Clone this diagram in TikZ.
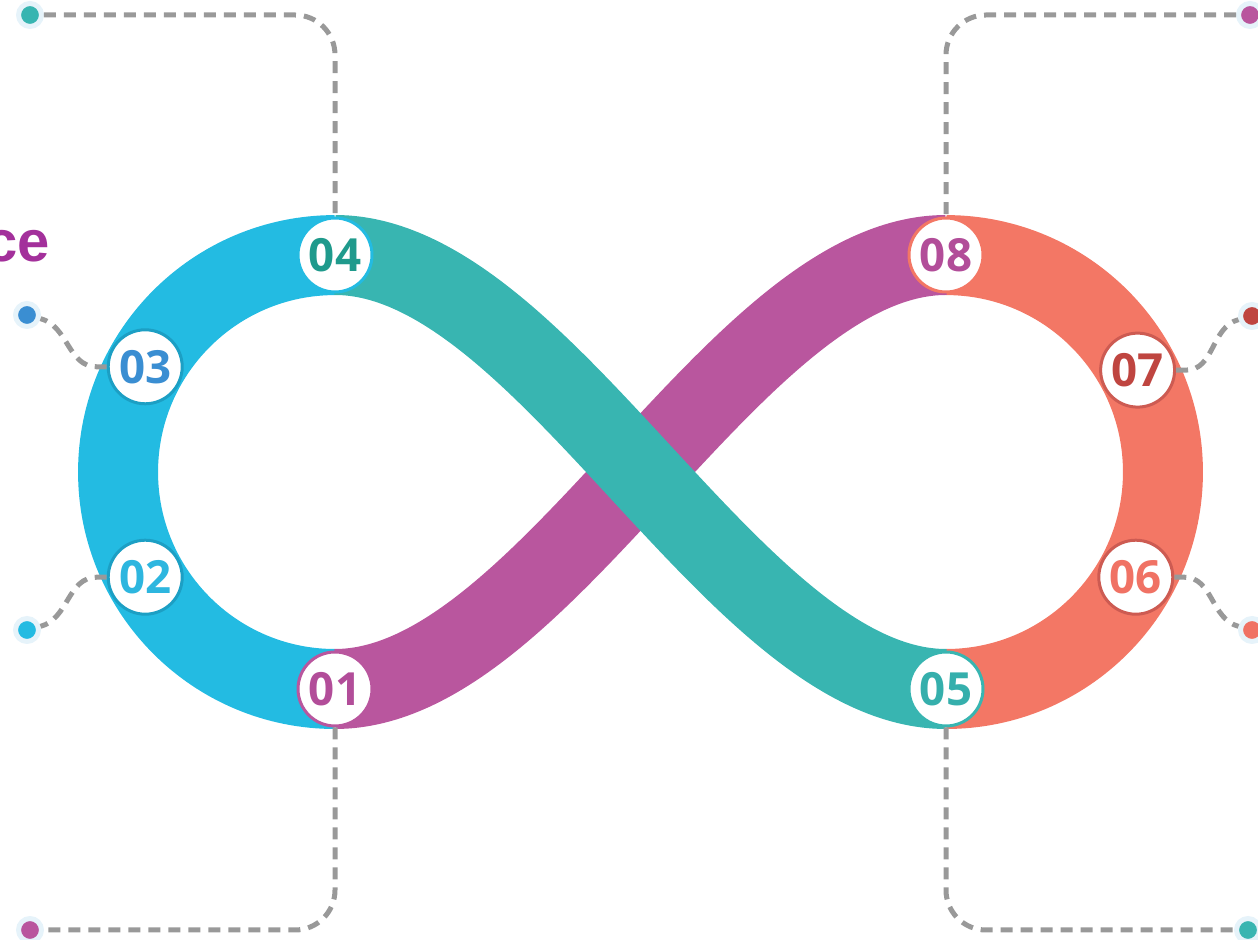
\documentclass[tikz,border=0pt]{standalone}
\usepackage{fontspec}
\setmainfont{Open Sans}
\newfontfamily\titlefont{Liberation Sans}
\usepackage{xcolor}
\usepackage{tikz}
\usetikzlibrary{calc}

\definecolor{cyanband}{HTML}{23BBE2}
\definecolor{tealband}{HTML}{38B5B1}
\definecolor{magband}{HTML}{B9569E}
\definecolor{coralband}{HTML}{F37765}
\definecolor{linkgray}{HTML}{999999}
\definecolor{halo}{HTML}{E6F3FA}
\definecolor{titlemag}{HTML}{A3309B}
\definecolor{ringblue}{HTML}{1C9FC4}
\definecolor{ringred}{HTML}{CD5B52}
\definecolor{txtteal}{HTML}{1F9A8C}
\definecolor{txtblue}{HTML}{3A8ED2}
\definecolor{txtcyan}{HTML}{2DB6DF}
\definecolor{txtmag}{HTML}{B24D99}
\definecolor{txtred}{HTML}{BF4540}
\definecolor{txtcoral}{HTML}{F07264}
\definecolor{txtteal2}{HTML}{35AFAC}

\begin{document}
\begin{tikzpicture}[x=0.02cm, y=0.02cm,
  band/.style={line width=1.6cm},
  num/.style={circle, fill=white, draw=#1, line width=0.06cm, minimum size=1.48cm,
    inner sep=0pt, font=\fontsize{26}{26}\selectfont\bfseries},
  dot/.style={circle, fill=#1, draw=halo, line width=0.1cm, minimum size=0.46cm, inner sep=0pt},
  link/.style={draw=linkgray, line width=0.1cm, dash pattern=on 0.24cm off 0.16cm}]
  \useasboundingbox (0,0) rectangle (1258,940);
  \coordinate (L) at (335,468);
  \coordinate (R) at (946,468);
  % loops
  \draw[band, cyanband] ($(L)+(0,-217)$) arc[start angle=270, end angle=90, radius=4.34cm];
  \draw[band, coralband] ($(R)+(0,-217)$) arc[start angle=-90, end angle=90, radius=4.34cm];
  % crossing
  \draw[band, magband] ($(L)+(0,-217)$) .. controls +(210,0) and +(-210,0) .. ($(R)+(0,217)$);
  \draw[band, tealband] ($(L)+(0,217)$) .. controls +(210,0) and +(-210,0) .. ($(R)+(0,-217)$);
  % numbers
  \node[num=cyanband, text=txtteal]  (n04) at ($(L)+(90:217)$)  {04};
  \node[num=ringblue, text=txtblue]  (n03) at ($(L)+(151:217)$) {03};
  \node[num=ringblue, text=txtcyan]  (n02) at ($(L)+(209:217)$) {02};
  \node[num=magband,  text=txtmag]   (n01) at ($(L)+(270:217)$) {01};
  \node[num=coralband, text=txtmag]  (n08) at ($(R)+(90:217)$)  {08};
  \node[num=ringred,  text=txtred]   (n07) at ($(R)+(28:217)$)  {07};
  \node[num=ringred,  text=txtcoral] (n06) at ($(R)+(-29:217)$) {06};
  \node[num=tealband, text=txtteal2] (n05) at ($(R)+(270:217)$) {05};
  % end dots
  \node[dot=tealband]  (d04) at (30,925) {};
  \node[dot=txtblue]   (d03) at (27,625) {};
  \node[dot=cyanband]  (d02) at (27,310) {};
  \node[dot=magband]   (d01) at (30,10) {};
  \node[dot=magband]   (d08) at (1250,925) {};
  \node[dot=txtred]    (d07) at (1252,624) {};
  \node[dot=txtcoral]  (d06) at (1252,310) {};
  \node[dot=tealband]  (d05) at (1248,10) {};
  % dashed links
  \draw[link, rounded corners=0.8cm] (d04) -| (n04.north);
  \draw[link, rounded corners=0.8cm] (n01.south) |- (d01);
  \draw[link, rounded corners=0.8cm] (d08) -| (n08.north);
  \draw[link, rounded corners=0.8cm] (n05.south) |- (d05);
  \draw[link] (n03.west) -- ++(-10,0) to[out=180, in=-15] (d03);
  \draw[link] (n02.west) -- ++(-10,0) to[out=180, in=15] (d02);
  \draw[link] (n07.east) -- ++(10,0) to[out=0, in=195] (d07);
  \draw[link] (n06.east) -- ++(10,0) to[out=0, in=165] (d06);
  % title fragment
  \node[text=titlemag, font=\titlefont\bfseries\fontsize{33}{33}\selectfont,
    anchor=base east, inner sep=0pt] (title) at (50,678) {ce};
\end{tikzpicture}
\end{document}
